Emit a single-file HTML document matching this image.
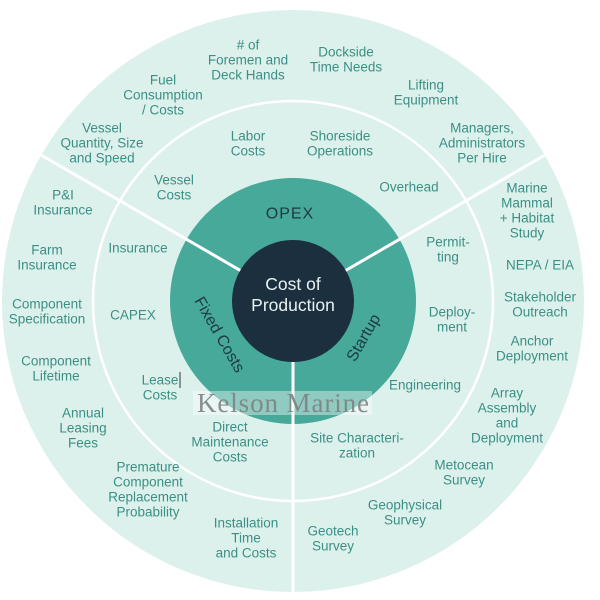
<!DOCTYPE html>
<html><head><meta charset="utf-8"><style>
html,body{margin:0;padding:0;background:#fff;width:600px;height:600px;overflow:hidden}
svg{display:block}
text{font-family:"Liberation Sans",sans-serif;fill:#3b8f84;font-size:13.5px;text-anchor:middle;dominant-baseline:central}
</style></head><body>
<svg width="600" height="600" viewBox="0 0 600 600">
<circle cx="293" cy="301" r="291" fill="#dcf1ec"/>
<circle cx="293" cy="301" r="200" fill="none" stroke="#fff" stroke-width="2.5"/>
<circle cx="293" cy="301" r="123" fill="#46a999"/>
<g stroke="#fff" stroke-width="3">
<line x1="293" y1="301" x2="293" y2="595"/>
<line x1="293" y1="301" x2="41" y2="155"/>
<line x1="293" y1="301" x2="545" y2="155"/>
</g>
<circle cx="293" cy="301" r="61" fill="#1b2f3f"/>
<text x="293" y="284" style="fill:#e8f3f1;font-size:17.5px">Cost of</text>
<text x="293" y="305" style="fill:#e8f3f1;font-size:17.5px">Production</text>
<text x="290" y="214" style="fill:#1d3a42;font-size:16px;letter-spacing:1px">OPEX</text>
<text x="0" y="0" transform="translate(219,335) rotate(60)" style="fill:#1d3a42;font-size:16px">Fixed Costs</text>
<text x="0" y="0" transform="translate(364,338) rotate(-60)" style="fill:#1d3a42;font-size:16px">Startup</text>

<g>
<text x="248" y="45">#  of</text><text x="248" y="60">Foremen and</text><text x="248" y="75">Deck Hands</text>
<text x="346" y="52">Dockside</text><text x="346" y="67">Time Needs</text>
<text x="163" y="80">Fuel</text><text x="163" y="95">Consumption</text><text x="163" y="110">/ Costs</text>
<text x="426" y="85">Lifting</text><text x="426" y="100">Equipment</text>
<text x="102" y="128">Vessel</text><text x="102" y="143">Quantity, Size</text><text x="102" y="158">and Speed</text>
<text x="482" y="128">Managers,</text><text x="482" y="143">Administrators</text><text x="482" y="158">Per Hire</text>
<text x="63" y="195">P&amp;I</text><text x="63" y="210">Insurance</text>
<text x="47" y="250">Farm</text><text x="47" y="265">Insurance</text>
<text x="47" y="304">Component</text><text x="47" y="319">Specification</text>
<text x="56" y="361">Component</text><text x="56" y="376">Lifetime</text>
<text x="83" y="413">Annual</text><text x="83" y="428">Leasing</text><text x="83" y="443">Fees</text>
<text x="148" y="467">Premature</text><text x="148" y="482">Component</text><text x="148" y="497">Replacement</text><text x="148" y="512">Probability</text>
<text x="246" y="523">Installation</text><text x="246" y="538">Time</text><text x="246" y="553">and Costs</text>
<text x="333" y="531">Geotech</text><text x="333" y="546">Survey</text>
<text x="405" y="505">Geophysical</text><text x="405" y="520">Survey</text>
<text x="464" y="465">Metocean</text><text x="464" y="480">Survey</text>
<text x="507" y="393">Array</text><text x="507" y="408">Assembly</text><text x="507" y="423">and</text><text x="507" y="438">Deployment</text>
<text x="532" y="341">Anchor</text><text x="532" y="356">Deployment</text>
<text x="540" y="297">Stakeholder</text><text x="540" y="312">Outreach</text>
<text x="540" y="265">NEPA / EIA</text>
<text x="527" y="188">Marine</text><text x="527" y="203">Mammal</text><text x="527" y="218">+ Habitat</text><text x="527" y="233">Study</text>

<text x="248" y="136">Labor</text><text x="248" y="151">Costs</text>
<text x="340" y="136">Shoreside</text><text x="340" y="151">Operations</text>
<text x="174" y="180">Vessel</text><text x="174" y="195">Costs</text>
<text x="409" y="187">Overhead</text>
<text x="138" y="248">Insurance</text>
<text x="448" y="242">Permit-</text><text x="448" y="257">ting</text>
<text x="133" y="315">CAPEX</text>
<text x="452" y="312">Deploy-</text><text x="452" y="327">ment</text>
<text x="160" y="380">Lease</text><text x="160" y="395">Costs</text>
<text x="425" y="385">Engineering</text>
<text x="230" y="427">Direct</text><text x="230" y="442">Maintenance</text><text x="230" y="457">Costs</text>
<text x="357" y="438">Site Characteri-</text><text x="357" y="453">zation</text>
</g>
<line x1="180" y1="372" x2="180" y2="388" stroke="#333" stroke-width="1"/>
<rect x="193" y="391" width="179" height="24" fill="#fff" fill-opacity="0.4"/>
<text x="283" y="403" textLength="172" style="font-family:'Liberation Serif',serif;font-size:27px;fill:#7d8382;fill-opacity:0.9">Kelson Marine</text>
</svg>
</body></html>
